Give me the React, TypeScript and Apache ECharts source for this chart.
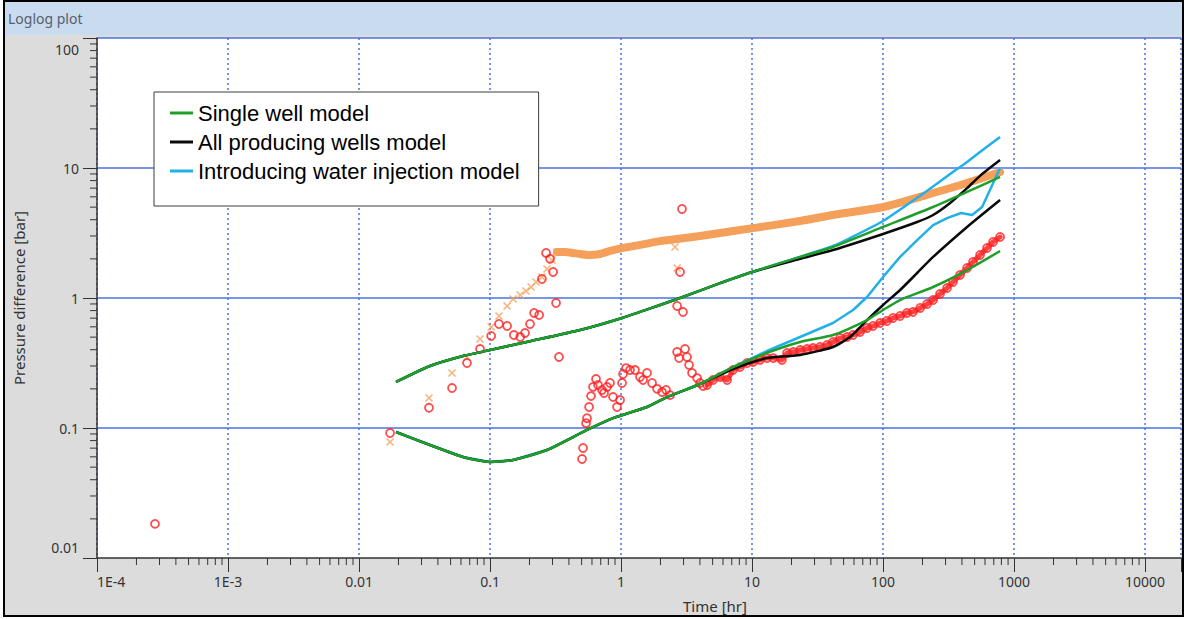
import React, { useEffect, useRef } from 'react';
import * as echarts from 'echarts';

// ---------- tick labels ----------
const xTickLabels = ['1E-4', '1E-3', '0.01', '0.1', '1', '10', '100', '1000', '10000'];
const yTickLabels = ['0.01', '0.1', '1', '10', '100'];
const legendNames = ['Single well model', 'All producing wells model', 'Introducing water injection model'];

// ---------- measured data (time [hr], pressure difference [bar]) ----------
const pressureEarly: number[][] = [
  [0.01725, 0.078], [0.0342, 0.17], [0.0513, 0.265], [0.0667, 0.352], [0.0839, 0.484],
  [0.102, 0.598], [0.117, 0.727], [0.135, 0.868], [0.15, 0.982], [0.17, 1.054],
  [0.188, 1.132], [0.206, 1.215], [0.224, 1.328], [0.249, 1.45], [0.272, 1.671],
  [0.297, 1.96], [0.324, 2.26], [2.58, 2.47], [2.68, 1.7],
];

const pressureBand: number[][] = [
  [0.324, 2.26], [0.374, 2.26], [0.43, 2.22], [0.487, 2.18], [0.58, 2.14], [0.691, 2.18],
  [0.824, 2.3], [1.018, 2.42], [1.396, 2.56], [1.985, 2.74], [2.68, 2.84], [4.01, 3.0],
  [5.7, 3.16], [10.18, 3.45], [23.25, 3.91], [41.5, 4.35], [100, 5.01], [241, 6.42],
  [438, 7.67], [782, 9.31],
];

const derivativeData: number[][] = [
  [0.000277, 0.0183],
  [0.01725, 0.0915], [0.0342, 0.143], [0.0513, 0.203], [0.0667, 0.316], [0.0839, 0.405],
  [0.102, 0.51], [0.117, 0.631], [0.135, 0.609], [0.152, 0.519], [0.17, 0.501],
  [0.185, 0.538], [0.202, 0.631], [0.217, 0.767], [0.237, 0.74], [0.249, 1.4],
  [0.268, 2.22], [0.287, 2.0], [0.303, 1.585], [0.319, 0.915], [0.336, 0.352],
  [0.504, 0.0577], [0.513, 0.0702], [0.541, 0.109], [0.55, 0.119],
  [0.57, 0.145], [0.59, 0.176], [0.611, 0.207], [0.644, 0.238], [0.667, 0.214],
  [0.716, 0.196], [0.742, 0.186], [0.782, 0.207], [0.824, 0.222], [0.869, 0.173],
  [0.932, 0.145], [0.983, 0.164], [1.018, 0.222], [1.036, 0.26], [1.092, 0.289],
  [1.171, 0.279], [1.279, 0.279], [1.396, 0.247], [1.472, 0.234], [1.579, 0.265],
  [1.724, 0.222], [1.883, 0.2], [2.056, 0.189], [2.206, 0.196], [2.366, 0.179],
  [2.677, 0.384], [2.772, 0.345], [3.08, 0.405], [3.19, 0.352], [3.304, 0.305],
  [3.483, 0.265], [3.803, 0.242], [4.009, 0.222], [4.227, 0.21],
  [2.92, 4.84], [2.82, 1.585], [2.68, 0.868], [2.97, 0.78],
  [4.54, 0.214], [5.04, 0.234], [5.7, 0.247], [6.45, 0.234], [7.16, 0.279],
  [8.1, 0.294], [9.16, 0.316], [10.2, 0.322], [11.5, 0.334], [13.0, 0.345],
  [14.5, 0.345], [16.9, 0.334], [18.5, 0.378], [20.6, 0.384], [23.3, 0.398],
  [26.3, 0.405], [29.2, 0.412], [33.0, 0.42], [37.4, 0.435], [41.5, 0.459],
  [47.0, 0.492], [53.1, 0.501], [59.0, 0.519], [66.8, 0.548], [75.5, 0.588],
  [83.9, 0.609], [94.9, 0.642], [107, 0.665], [119, 0.702], [135, 0.727],
  [152, 0.767], [169, 0.78], [192, 0.838], [217, 0.899], [241, 0.965],
  [272, 1.073], [308, 1.194], [342, 1.328], [387, 1.503], [438, 1.701],
  [486, 1.892], [550, 2.142], [622, 2.424], [691, 2.697], [782, 2.945],
];

// ---------- models ----------
const singlePressure: number[][] = [
  [0.01916, 0.226], [0.0348, 0.3], [0.0622, 0.358], [0.1, 0.398], [0.206, 0.467],
  [0.487, 0.567], [1.018, 0.702], [1.985, 0.884], [2.82, 1.0], [5.7, 1.3],
  [10.0, 1.585], [23.25, 2.07], [41.5, 2.47], [100, 3.52], [241, 5.01],
  [438, 6.54], [782, 8.53],
];
const singleDerivative: number[][] = [
  [0.01916, 0.0932], [0.0348, 0.074], [0.0622, 0.0598], [0.1, 0.0548], [0.15, 0.0568],
  [0.272, 0.0677], [0.55, 0.0966], [0.869, 0.119], [1.579, 0.145], [2.245, 0.173],
  [4.009, 0.218], [7.16, 0.294], [13.0, 0.378], [23.25, 0.459], [41.5, 0.519],
  [75.5, 0.677], [100, 0.809], [135, 0.965], [241, 1.215], [438, 1.64], [782, 2.3],
];
const allPressure: number[][] = [
  [0.01916, 0.226], [0.0348, 0.3], [0.0622, 0.358], [0.1, 0.398], [0.206, 0.467],
  [0.487, 0.567], [1.018, 0.702], [1.985, 0.884], [2.82, 1.0], [5.7, 1.3],
  [10.0, 1.585], [23.25, 2.0], [41.5, 2.34], [100, 3.11], [182, 3.84], [241, 4.35],
  [325, 5.38], [438, 7.0], [550, 8.7], [782, 11.5],
];
const allDerivative: number[][] = [
  [0.01916, 0.0932], [0.0348, 0.074], [0.0622, 0.0598], [0.1, 0.0548], [0.15, 0.0568],
  [0.272, 0.0677], [0.55, 0.0966], [0.869, 0.119], [1.579, 0.145], [2.245, 0.173],
  [4.009, 0.218], [7.16, 0.284], [13.0, 0.345], [23.25, 0.365], [41.5, 0.42],
  [56, 0.501], [75.5, 0.677], [100, 0.884], [135, 1.152], [182, 1.557], [241, 2.07],
  [438, 3.52], [782, 5.67],
];
const injPressure: number[][] = [
  [0.01916, 0.226], [0.0348, 0.3], [0.0622, 0.358], [0.1, 0.398], [0.206, 0.467],
  [0.487, 0.567], [1.018, 0.702], [1.985, 0.884], [2.82, 1.0], [5.7, 1.3],
  [10.0, 1.585], [23.25, 2.07], [41.5, 2.51], [56, 2.89], [100, 3.91], [182, 5.9],
  [241, 7.2], [325, 8.99], [438, 11.1], [550, 13.3], [782, 17.3],
];
const injDerivative: number[][] = [
  [0.01916, 0.0932], [0.0348, 0.074], [0.0622, 0.0598], [0.1, 0.0548], [0.15, 0.0568],
  [0.272, 0.0677], [0.55, 0.0966], [0.869, 0.119], [1.579, 0.145], [2.245, 0.173],
  [4.009, 0.218], [7.16, 0.294], [13.0, 0.391], [23.25, 0.501], [41.5, 0.642],
  [59.0, 0.809], [75.5, 1.018], [100, 1.45], [135, 2.07], [182, 2.79], [241, 3.64],
  [308, 4.12], [394, 4.51], [478, 4.35], [570, 5.01], [782, 10.0],
];

// ---------- axis ranges ----------
const X_MIN = 1e-4;
const X_MAX = 18800;
const Y_MIN = 0.01;
const Y_MAX = 100;

const xMinorTicks: number[] = [];
for (let e = -4; e <= 3; e++) for (let m = 2; m <= 9; m++) xMinorTicks.push(m * Math.pow(10, e));
const yMinorTicks: number[] = [];
for (let e = -2; e <= 1; e++) for (let m = 2; m <= 9; m++) yMinorTicks.push(m * Math.pow(10, e));

const FONT = '"Noto Sans", "DejaVu Sans", sans-serif';
const LEG_FONT = '"Liberation Sans", Arial, sans-serif';
const GRID_BLUE = '#4a72e2';
const AXIS_C = '#333333';

const GREEN = '#1f9e2a';
const BLACK = '#0a0a0a';
const CYAN = '#22b0e8';
const ORANGE = '#f5a05a';
const RED = '#ff2020';

function lineSeries(name: string, data: number[][], color: string, z: number, smooth = 0.2) {
  return {
    type: 'line',
    name,
    data,
    showSymbol: false,
    symbol: 'none',
    smooth,
    z,
    lineStyle: { color, width: 2.5, join: 'round' },
    itemStyle: { color },
    emphasis: { disabled: true },
    silent: true,
  };
}

export default function App() {
  const ref = useRef<HTMLDivElement>(null);
  useEffect(() => {
    if (!ref.current) return;
    const chart = echarts.init(ref.current, null, { renderer: 'svg' });
    const derivativeDense = derivativeData.filter((p) => p[0] >= 4.5);
    const option: any = {
      animation: false,
      backgroundColor: '#dcdcdc',
      graphic: [
        { type: 'rect', z: 100, shape: { x: 0, y: 0, width: 3, height: 619 }, style: { fill: '#ffffff' } },
        { type: 'rect', z: 100, shape: { x: 0, y: 617, width: 1185, height: 2 }, style: { fill: '#ffffff' } },
        { type: 'rect', z: 100, shape: { x: 1184, y: 0, width: 1, height: 619 }, style: { fill: '#ffffff' } },
        { type: 'rect', z: 100, shape: { x: 5, y: 2, width: 1177, height: 33 }, style: { fill: '#c9dbee' } },
        {
          type: 'text', z: 101, x: 8, y: 18,
          style: { text: 'Loglog plot', fill: '#56606e', font: `14px ${FONT}`, verticalAlign: 'middle', align: 'left' },
        },
        {
          type: 'rect', z: 102, shape: { x: 4, y: 1, width: 1179, height: 615 },
          style: { fill: 'none', stroke: '#000000', lineWidth: 2 },
        },
      ],
      grid: {
        left: 97, top: 38, right: 4, bottom: 61,
        show: true, backgroundColor: '#ffffff', borderWidth: 0,
      },
      legend: {
        data: legendNames,
        orient: 'vertical',
        left: 154,
        top: 92,
        icon: 'rect',
        itemWidth: 23,
        itemHeight: 3,
        itemGap: 7,
        padding: [10, 19, 24, 16],
        backgroundColor: '#ffffff',
        borderColor: '#3c3c3c',
        borderWidth: 1,
        borderRadius: 0,
        selectedMode: false,
        textStyle: { fontSize: 22, lineHeight: 22, color: '#000000', fontFamily: LEG_FONT },
      },
      xAxis: {
        type: 'log',
        logBase: 10,
        min: X_MIN,
        max: X_MAX,
        name: 'Time [hr]',
        nameLocation: 'middle',
        nameGap: 40,
        nameTextStyle: { fontSize: 15, color: AXIS_C, fontFamily: FONT, padding: [0, 0, 0, 152] },
        axisLine: { show: true, onZero: false, lineStyle: { color: AXIS_C, width: 1.5 } },
        axisTick: { show: true, inside: false, length: 14, lineStyle: { color: AXIS_C, width: 1 } },
        axisLabel: {
          margin: 16,
          fontSize: 14,
          color: AXIS_C,
          fontFamily: FONT,
          alignMinLabel: 'left',
          showMinLabel: true,
          formatter: (v: number) => {
            const l = Math.log10(v);
            const e = Math.round(l);
            if (Math.abs(l - e) > 1e-6) return '';
            return xTickLabels[e + 4] ?? '';
          },
        },
        splitLine: { show: true, lineStyle: { color: GRID_BLUE, width: 1.5, type: [2, 3] } },
      },
      yAxis: {
        type: 'log',
        logBase: 10,
        min: Y_MIN,
        max: Y_MAX,
        name: 'Pressure difference [bar]',
        nameLocation: 'middle',
        nameRotate: 90,
        nameGap: 71,
        nameTextStyle: { fontSize: 15, color: AXIS_C, fontFamily: FONT },
        axisLine: { show: true, onZero: false, lineStyle: { color: AXIS_C, width: 1.5 } },
        axisTick: { show: true, inside: false, length: 14, lineStyle: { color: AXIS_C, width: 1 } },
        axisLabel: {
          margin: 18,
          fontSize: 14,
          color: AXIS_C,
          fontFamily: FONT,
          showMinLabel: true,
          showMaxLabel: true,
          formatter: (v: number) => {
            const e = Math.round(Math.log10(v));
            const lab = yTickLabels[e + 2] ?? '';
            if (e === 2) return `{top|${lab}}`;
            if (e === -2) return `{bot|${lab}}`;
            return lab;
          },
          rich: {
            top: { padding: [22, 0, 0, 0], fontSize: 14, color: AXIS_C, fontFamily: FONT },
            bot: { padding: [0, 0, 22, 0], fontSize: 14, color: AXIS_C, fontFamily: FONT },
          },
        },
        splitLine: { show: true, showMinLine: false, lineStyle: { color: GRID_BLUE, width: 1.5, type: 'solid' } },
      },
      series: [
        {
          type: 'custom',
          name: 'xMinor',
          silent: true,
          clip: false,
          z: 5,
          data: xMinorTicks.map((v) => [v, Y_MIN]),
          renderItem: (_p: any, api: any) => {
            const pt = api.coord([api.value(0), api.value(1)]);
            return {
              type: 'line',
              shape: { x1: pt[0], y1: pt[1], x2: pt[0], y2: pt[1] + 7 },
              style: { stroke: AXIS_C, lineWidth: 1 },
            };
          },
        },
        {
          type: 'custom',
          name: 'yMinor',
          silent: true,
          clip: false,
          z: 5,
          data: yMinorTicks.map((v) => [X_MIN, v]),
          renderItem: (_p: any, api: any) => {
            const pt = api.coord([api.value(0), api.value(1)]);
            return {
              type: 'line',
              shape: { x1: pt[0] - 7, y1: pt[1], x2: pt[0], y2: pt[1] },
              style: { stroke: AXIS_C, lineWidth: 1 },
            };
          },
        },
        {
          type: 'line',
          name: 'Pressure data band',
          data: pressureBand,
          showSymbol: false,
          symbol: 'none',
          smooth: 0.2,
          z: 2,
          silent: true,
          lineStyle: { color: ORANGE, width: 8, cap: 'round', join: 'round' },
          itemStyle: { color: ORANGE },
        },
        {
          type: 'scatter',
          name: 'Pressure data',
          data: pressureEarly,
          symbol: 'path://M0 0L10 10M10 0L0 10',
          symbolSize: 7,
          z: 2,
          silent: true,
          itemStyle: { color: 'rgba(0,0,0,0)', borderColor: ORANGE, borderWidth: 1.6 },
        },
        {
          type: 'line',
          name: 'Derivative data band',
          data: derivativeDense,
          showSymbol: false,
          symbol: 'none',
          smooth: 0.15,
          z: 3,
          silent: true,
          lineStyle: { color: RED, width: 5, opacity: 0.85, cap: 'round', join: 'round' },
          itemStyle: { color: RED },
        },
        {
          type: 'scatter',
          name: 'Derivative data',
          data: derivativeData,
          symbol: 'circle',
          symbolSize: 8,
          z: 3,
          silent: true,
          itemStyle: { color: 'rgba(255,255,255,0)', borderColor: RED, borderWidth: 1.8 },
        },
        lineSeries(legendNames[2], injPressure, CYAN, 4),
        lineSeries(legendNames[2], injDerivative, CYAN, 4, 0),
        lineSeries(legendNames[1], allPressure, BLACK, 5),
        lineSeries(legendNames[1], allDerivative, BLACK, 5),
        lineSeries(legendNames[0], singlePressure, GREEN, 6),
        lineSeries(legendNames[0], singleDerivative, GREEN, 6),
      ],
    };
    chart.setOption(option);
    return () => chart.dispose();
  }, []);
  return (
    <div
      ref={ref}
      style={{ position: 'absolute', left: 0, top: 0, width: 1185, height: 619, background: '#ffffff' }}
    />
  );
}
